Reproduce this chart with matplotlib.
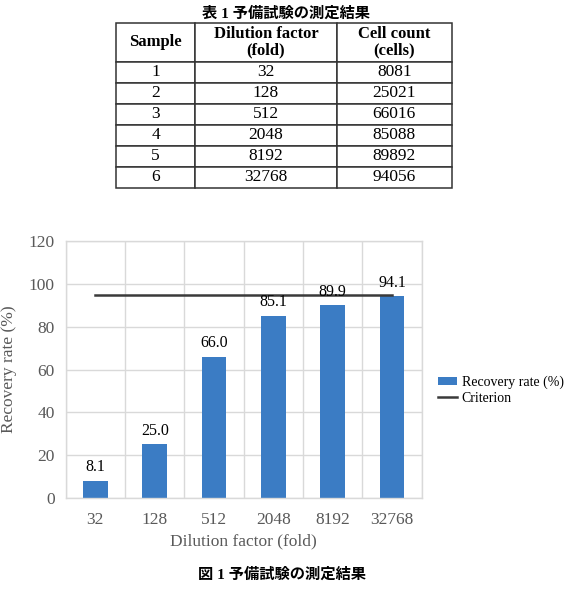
import matplotlib
matplotlib.use("Agg")
import matplotlib.pyplot as plt
import numpy as np

plt.rcParams['font.family'] = ['Liberation Serif', 'Noto Sans CJK JP', 'DejaVu Sans']

# ---- data ----
sample_no = ["1", "2", "3", "4", "5", "6"]
dilution = ["32", "128", "512", "2048", "8192", "32768"]
counts = [8081, 25021, 66016, 85088, 89892, 94056]
rates = [8.1, 25.0, 66.0, 85.1, 89.9, 94.1]
criterion = [95, 95, 95, 95, 95, 95]
yticks = [0, 20, 40, 60, 80, 100, 120]

table_title = "表 1 予備試験の測定結果"
fig_title = "図 1 予備試験の測定結果"
col_headers = ["Sample", "Dilution factor\n(fold)", "Cell count\n(cells)"]
xlabel = "Dilution factor (fold)"
ylabel = "Recovery rate (%)"
bar_name = "Recovery rate (%)"
line_name = "Criterion"

W, H = 572, 600
fig = plt.figure(figsize=(W / 100, H / 100), dpi=100)

# ---- table ----
tx0, tx1, ty0, ty1 = 116, 452, 22.7, 187.7
tax = fig.add_axes([tx0 / W, 1 - ty1 / H, (tx1 - tx0) / W, (ty1 - ty0) / H])
tax.axis('off')
cell_text = [[s, d, str(c)] for s, d, c in zip(sample_no, dilution, counts)]
colw = [79 / 336, 141.7 / 336, 115.3 / 336]
tbl = tax.table(cellText=cell_text, colLabels=col_headers, colWidths=colw,
                cellLoc='center', bbox=[0, 0, 1, 1])
tbl.auto_set_font_size(False)
for (r, c), cell in tbl.get_celld().items():
    cell.set_edgecolor('#333333')
    cell.set_linewidth(1.1)
    if r == 0:
        cell.set_height(39)
        cell.get_text().set_fontsize(12)
        cell.get_text().set_fontweight('bold')
        cell.get_text().set_linespacing(1.0)
    else:
        cell.set_height(21)
        cell.get_text().set_fontsize(12.5)
fig.text(0.5, 1 - 14 / H, table_title, ha='center', va='center',
         fontsize=11, fontweight='bold')

# ---- chart ----
ax_l, ax_r, ax_t, ax_b = 65.7, 421.7, 241.0, 498.0
ax = fig.add_axes([ax_l / W, 1 - ax_b / H, (ax_r - ax_l) / W, (ax_b - ax_t) / H])
x = np.arange(len(dilution))
bar_color = '#3b7cc4'
bars = ax.bar(x, rates, width=0.42, color=bar_color, label=bar_name, zorder=2)
line, = ax.plot(x, criterion, color='#3a3a3a', lw=1.8, label=line_name, zorder=3)
for xi, v in zip(x, rates):
    ax.text(xi, v + 2.6, f"{v:.1f}", ha='center', va='bottom', fontsize=11.5,
            color='black', zorder=4)

ax.set_xlim(-0.5, len(dilution) - 0.5)
ax.set_ylim(0, 120)
ax.set_yticks(yticks)
ax.set_yticklabels([str(t) for t in yticks])
ax.set_xticks(x)
ax.set_xticklabels(dilution)
ax.set_xticks(np.arange(-0.5, len(dilution), 1.0), minor=True)
ax.tick_params(axis='both', which='both', length=0, labelsize=12.5,
               labelcolor='#595959')
ax.tick_params(axis='x', pad=10)
ax.tick_params(axis='y', pad=8)
ax.grid(axis='y', which='major', color='#d9d9d9', lw=1.0, zorder=0)
ax.grid(axis='x', which='minor', color='#d9d9d9', lw=1.0, zorder=0)
ax.grid(axis='x', which='major', visible=False)
for s in ax.spines.values():
    s.set_color('#d9d9d9')
    s.set_linewidth(1.0)
ax.set_xlabel(xlabel, fontsize=12.5, color='#595959', labelpad=4)
ax.set_ylabel(ylabel, fontsize=12.5, color='#595959', labelpad=8)

leg = ax.legend([bars, line], [bar_name, line_name], loc='center left',
                bbox_to_anchor=(1.03, 0.42), frameon=False,
                fontsize=10, handlelength=1.4, handleheight=0.5,
                labelspacing=0.2, handletextpad=0.3, borderaxespad=0)

fig.text(0.493, 1 - 575 / H, fig_title, ha='center', va='center',
         fontsize=11, fontweight='bold')

fig.savefig("out.png", dpi=100)
